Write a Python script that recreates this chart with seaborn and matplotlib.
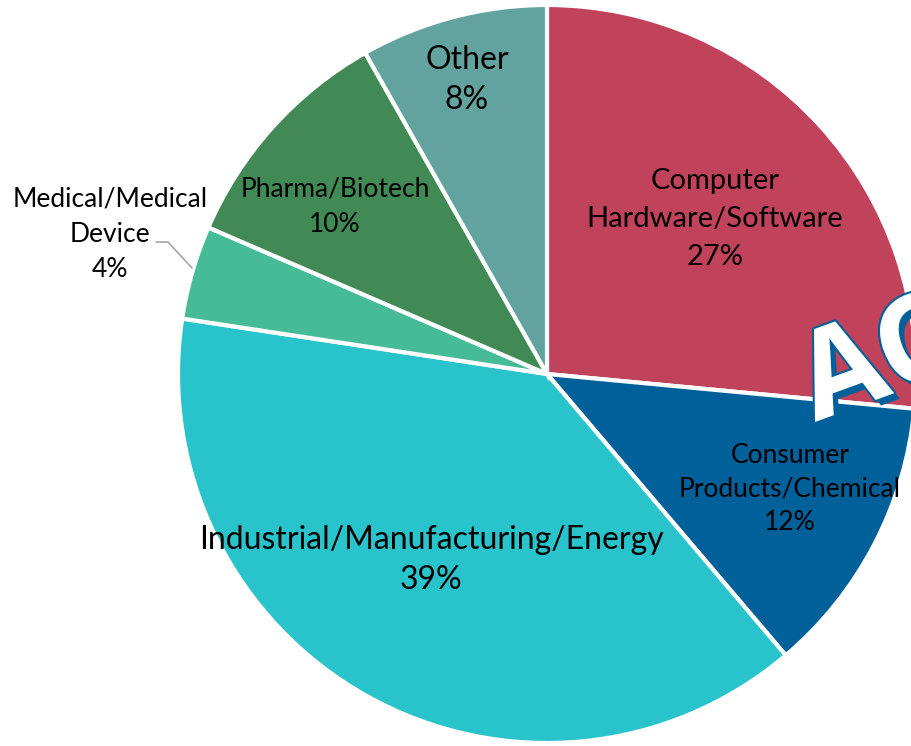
import matplotlib
matplotlib.use("Agg")
import matplotlib.pyplot as plt
import matplotlib.patheffects as pe
import seaborn as sns

categories = ["Computer\nHardware/Software", "Consumer\nProducts/Chemical",
              "Industrial/Manufacturing/Energy", "Medical/Medical\nDevice",
              "Pharma/Biotech", "Other"]
values = [26.5, 12.3, 38.6, 4.1, 10.3, 8.2]
pct_labels = ["27%", "12%", "39%", "4%", "10%", "8%"]
colors = ["#C0435B", "#00609A", "#29C3CB", "#45BB96", "#418A55", "#62A39F"]

sns.set_style("white")
plt.rcParams['font.family'] = ['Lato', 'DejaVu Sans']

W, H = 912, 746
fig = plt.figure(figsize=(W / 100, H / 100), dpi=100)
cx, cy, R = 547, 374, 369
ax = fig.add_axes([(cx - R) / W, (H - cy - R) / H, 2 * R / W, 2 * R / H])
ax.pie(values, colors=colors, startangle=90, counterclock=False, radius=1,
       wedgeprops=dict(edgecolor="white", linewidth=3))
ax.set_xlim(-1, 1)
ax.set_ylim(-1, 1)
ax.set_aspect("equal")
ax.axis("off")


def d(px, py):
    return ((px - cx) / R, (cy - py) / R)


label_pos = [(715, 219, 21, 1.57), (790, 489, 19, 1.43), (431, 560, 23, 1.4),
             (110, 234, 19, 1.52), (335, 207, 19, 1.5), (467, 80, 23, 1.4)]
for cat, pct, (px, py, fs, ls) in zip(categories, pct_labels, label_pos):
    x, y = d(px, py)
    ax.text(x, y, f"{cat}\n{pct}", ha="center", va="center", fontsize=fs,
            color="black", linespacing=ls)

# leader line for Medical
pts = [d(156, 242), d(168, 242), d(192, 268)]
ax.plot([p[0] for p in pts], [p[1] for p in pts], color="#A6A6A6", lw=1.2,
        clip_on=False)

# watermark
wx, wy = d(815, 422)
ax.text(wx, wy, "AC", fontsize=88, fontweight="bold", color="white",
        rotation=20, rotation_mode="anchor", ha="left", va="baseline",
        clip_on=False, family=['Open Sans', 'DejaVu Sans'],
        path_effects=[pe.SimplePatchShadow(offset=(4, -4), shadow_rgbFace="#00609A", alpha=1),
                      pe.withStroke(linewidth=3, foreground="#00609A")])

fig.savefig("out.png", dpi=100)
